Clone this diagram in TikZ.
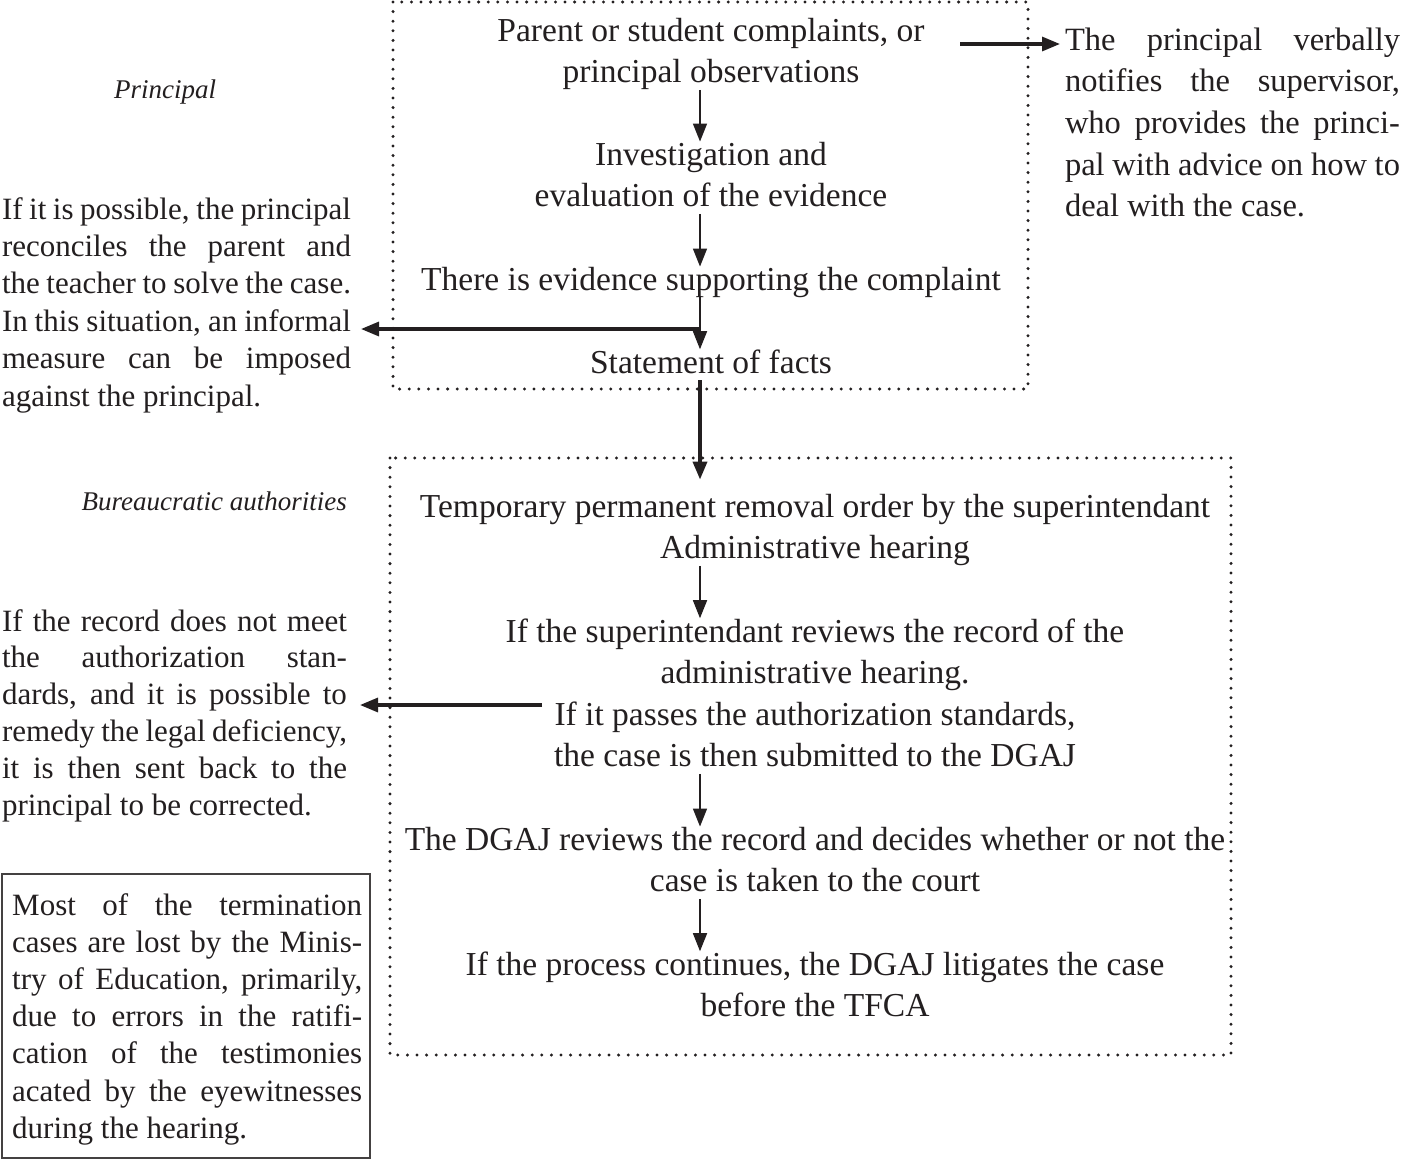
\documentclass[tikz,border=0pt]{standalone}
\usepackage{fontspec}
\setmainfont{Liberation Serif}
\usetikzlibrary{arrows.meta,calc}
\definecolor{ink}{HTML}{231F20}
\newcommand\cbox[1]{\vtop{\halign{\hfil##\vphantom{Tlg}\hfil\cr#1\crcr}}}
\newcommand\lbox[1]{\vtop{\halign{##\vphantom{Tlg}\hfil\cr#1\crcr}}}
\newcommand\jl[2]{\makebox[#1][s]{#2}}
\begin{document}
\begin{tikzpicture}[x=1pt,y=-1pt,
  txt/.style={inner sep=0pt, anchor=base, text=ink},
  maintxt/.style={txt, font=\fontsize{33.5}{41.5}\selectfont},
  sidetxt/.style={txt, anchor=base west, font=\fontsize{31}{37.4}\selectfont},
  notetxt/.style={txt, anchor=base west, font=\fontsize{31}{37.2}\selectfont},
  righttxt/.style={txt, anchor=base west, font=\fontsize{32.5}{41.7}\selectfont},
  lbl/.style={txt, font=\fontsize{27}{32}\selectfont\itshape},
  flow/.style={draw=ink, line width=1.6pt, -{Triangle[length=18pt,width=14pt]}},
  sideflow/.style={flow, line width=3.2pt},
  bigflow/.style={flow, line width=3.6pt},
  dotbox/.style={draw=ink, line width=3.3pt, line cap=round, dash pattern=on 0pt off 9.6pt},
]
\fill[white] (0,0) rectangle (1401,1159);
\useasboundingbox (0,0) rectangle (1401,1159);

% dotted frames
\draw[dotbox] (393,2) rectangle (1028,389);
\draw[dotbox] (390,458) rectangle (1231,1055);

% labels
\node[lbl] (lp) at (165,98) {Principal};
\node[lbl, anchor=base east] (lb) at (347,510) {Bureaucratic authorities};

% main column, top
\node[maintxt] (t1) at (711,41) {\cbox{Parent or student complaints, or\cr principal observations}};
\node[maintxt] (t2) at (711,165) {\cbox{Investigation and\cr evaluation of the evidence}};
\node[maintxt] (t3) at (711,290) {\cbox{There is evidence supporting the complaint}};
\node[maintxt] (t4) at (711,373) {\cbox{Statement of facts}};

% main column, bottom
\node[maintxt] (b1) at (815,517) {\cbox{Temporary permanent removal order by the superintendant\cr Administrative hearing}};
\node[maintxt] (b2) at (815,642) {\cbox{If the superintendant reviews the record of the\cr administrative hearing.\cr If it passes the authorization standards,\cr the case is then submitted to the DGAJ}};
\node[maintxt] (b3) at (815,850) {\cbox{The DGAJ reviews the record and decides whether or not the\cr case is taken to the court}};
\node[maintxt] (b4) at (815,975) {\cbox{If the process continues, the DGAJ litigates the case\cr before the TFCA}};

% right text
\node[righttxt, outer xsep=5pt] (rt) at (1060,50) {\lbox{%
\jl{335pt}{The principal verbally}\cr
\jl{335pt}{notifies the supervisor,}\cr
\jl{335pt}{who provides the princi-}\cr
\jl{335pt}{pal with advice on how to}\cr
deal with the case.}};

% left text 1
\node[sidetxt, outer xsep=10pt] (lt1) at (-8,219) {\lbox{%
\jl{349pt}{If it is possible, the principal}\cr
\jl{349pt}{reconciles the parent and}\cr
\jl{349pt}{the teacher to solve the case.}\cr
\jl{349pt}{In this situation, an informal}\cr
\jl{349pt}{measure can be imposed}\cr
against the principal.}};

% left text 2
\node[sidetxt, outer xsep=13pt, font=\fontsize{31}{36.8}\selectfont] (lt2) at (-11,631) {\lbox{%
\jl{345pt}{If the record does not meet}\cr
\jl{345pt}{the authorization stan-}\cr
\jl{345pt}{dards, and it is possible to}\cr
\jl{345pt}{remedy the legal deficiency,}\cr
\jl{345pt}{it is then sent back to the}\cr
principal to be corrected.}};

% note box
\draw[draw=ink!85, line width=1.2pt] (2,874) rectangle (370,1158);
\node[notetxt] (nb) at (12,915) {\lbox{%
\jl{350pt}{Most of the termination}\cr
\jl{350pt}{cases are lost by the Minis-}\cr
\jl{350pt}{try of Education, primarily,}\cr
\jl{350pt}{due to errors in the ratifi-}\cr
\jl{350pt}{cation of the testimonies}\cr
\jl{350pt}{acated by the eyewitnesses}\cr
during the hearing.}};

% connectors
\coordinate (ax) at (700,0);
\draw[flow] (t1.south -| ax) -- (t2.north -| ax);
\draw[flow] (t2.south -| ax) -- (t3.north -| ax);
\draw[flow] (t3.south -| ax) -- (t4.north -| ax);
\coordinate (j1) at (700,329);
\draw[sideflow] (j1) -- (j1 -| lt1.east);
\draw[bigflow, shorten >=14pt] (t4.south -| ax) -- (b1.north -| ax);
\draw[flow] (b1.south -| ax) -- (b2.north -| ax);
\coordinate (j2) at (542,705);
\draw[sideflow] (j2) -- (j2 -| lt2.east);
\draw[flow] (b2.south -| ax) -- (b3.north -| ax);
\draw[flow] (b3.south -| ax) -- (b4.north -| ax);
\coordinate (j0) at (960,44);
\draw[sideflow] (j0) -- (j0 -| rt.west);
\end{tikzpicture}
\end{document}
